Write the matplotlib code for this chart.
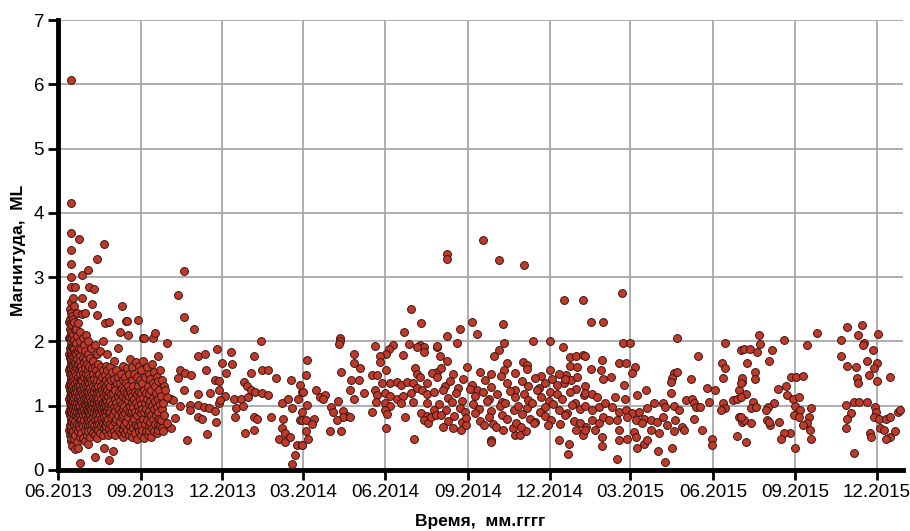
import numpy as np
import matplotlib
matplotlib.use('Agg')
import matplotlib.pyplot as plt
import matplotlib.dates as mdates
import datetime as dt

plt.rcParams['font.family'] = ['Liberation Sans', 'DejaVu Sans']

start_date = dt.datetime(2013, 6, 1)

# aftershock burst: day offset from 01.06.2013 -> magnitudes
burst_2013 = {
    12: [0.62, 0.9, 1.1, 1.3, 1.55, 1.8, 2.05, 2.3],
    13: [0.55, 0.7, 0.85, 0.95, 1.05, 1.15, 1.25, 1.35, 1.5, 1.6, 1.75, 1.9, 2.05, 2.2, 2.35, 2.5],
    14: [0.45, 0.62, 0.78, 0.9, 1.0, 1.1, 1.2, 1.3, 1.42, 1.55, 1.68, 1.8, 1.95, 2.1, 2.28, 2.62, 6.07],
    15: [0.5, 0.68, 0.82, 0.93, 1.03, 1.12, 1.22, 1.33, 1.45, 1.58, 1.72, 1.86, 2.0, 2.15, 2.45, 2.85, 3.0, 3.21, 3.42, 3.69, 4.15],
    16: [0.38, 0.58, 0.75, 0.88, 0.98, 1.08, 1.18, 1.28, 1.38, 1.5, 1.63, 1.78, 1.92, 2.06, 2.25, 2.4],
    17: [0.6, 0.8, 0.95, 1.07, 1.17, 1.3, 1.45, 1.6, 1.75, 1.9, 2.12, 2.35, 2.67],
    18: [0.48, 0.7, 0.87, 1.0, 1.12, 1.25, 1.4, 1.55, 1.7, 1.88, 2.02, 2.3, 2.55],
    19: [0.33, 0.55, 0.76, 0.92, 1.05, 1.2, 1.35, 1.52, 1.66, 1.82, 2.18, 2.85],
    20: [0.65, 0.85, 1.0, 1.15, 1.28, 1.48, 1.62, 1.8, 1.97, 2.2],
    21: [0.43, 0.72, 0.9, 1.05, 1.22, 1.38, 1.58, 1.72, 2.08, 2.45],
    22: [0.34, 0.6, 0.82, 0.98, 1.12, 1.3, 1.45, 1.65, 1.85, 2.28],
    23: [0.7, 0.88, 1.02, 1.18, 1.35, 1.55, 1.9, 3.59],
    24: [0.52, 0.78, 0.95, 1.1, 1.27, 1.42, 1.6, 1.78, 2.0],
    25: [0.11, 0.65, 0.85, 1.0, 1.15, 1.32, 1.5, 1.7, 2.15],
    26: [0.58, 0.8, 0.92, 1.08, 1.25, 1.4, 1.62, 1.88],
    27: [0.72, 0.9, 1.05, 1.2, 1.38, 1.55, 2.42, 2.67, 3.03],
    28: [0.5, 0.68, 0.85, 1.0, 1.16, 1.3, 1.5, 1.75, 2.05],
    29: [0.78, 0.95, 1.1, 1.28, 1.45, 1.68, 1.95],
    30: [0.45, 0.62, 0.88, 1.02, 1.2, 1.35, 1.58, 1.85, 2.45],
    31: [0.7, 0.85, 1.0, 1.12, 1.3, 1.5, 1.72, 2.1],
    32: [0.55, 0.8, 0.95, 1.08, 1.22, 1.42, 1.65],
    33: [0.41, 0.68, 0.9, 1.05, 1.18, 1.38, 1.55, 1.8, 3.11],
    34: [0.6, 0.78, 0.92, 1.1, 1.3, 1.48, 2.0],
    35: [0.75, 0.88, 1.0, 1.15, 1.35, 1.62, 2.84],
    36: [0.52, 0.7, 0.85, 0.98, 1.12, 1.28, 1.45, 1.75],
    37: [0.62, 0.8, 0.95, 1.08, 1.22, 1.4, 1.9],
    38: [0.72, 0.9, 1.02, 1.18, 1.35, 1.58, 2.58],
    39: [0.58, 0.82, 0.98, 1.12, 1.3, 1.5, 1.7],
    40: [0.68, 0.88, 1.05, 1.22, 1.42, 2.81],
    41: [0.21, 0.55, 0.78, 0.95, 1.1, 1.28, 1.6, 1.95],
    42: [0.65, 0.85, 1.0, 1.15, 1.35, 1.55],
    43: [0.75, 0.92, 1.08, 1.25, 1.48, 1.8],
    44: [0.5, 0.7, 0.88, 1.02, 1.2, 1.4, 2.41, 3.28],
    45: [0.62, 0.8, 0.98, 1.12, 1.3, 1.65],
    46: [0.72, 0.9, 1.05, 1.22, 1.5],
    47: [0.58, 0.85, 1.0, 1.18, 1.38, 1.85],
    48: [0.68, 0.8, 0.95, 1.1, 1.3, 1.6],
    49: [0.75, 0.92, 1.05, 1.25, 1.45],
    50: [0.55, 0.72, 0.88, 1.02, 1.2, 1.55, 2.0],
    51: [0.34, 0.65, 0.82, 0.98, 1.15, 1.35, 3.51],
    52: [0.7, 0.9, 1.05, 1.28, 1.48, 2.28],
    53: [0.6, 0.78, 0.95, 1.1, 1.3, 1.62],
    54: [0.68, 0.85, 1.0, 1.2, 1.4],
    55: [0.75, 0.92, 1.08, 1.25, 1.55, 1.8],
    56: [0.55, 0.8, 0.98, 1.15, 1.35],
    57: [0.16, 0.65, 0.88, 1.02, 1.22, 1.45, 2.31],
    58: [0.72, 0.9, 1.08, 1.3, 1.6],
    59: [0.58, 0.82, 0.98, 1.18, 1.4],
    60: [0.68, 1.02, 1.52],
    61: [0.29, 0.85, 1.2],
    62: [0.6, 0.98, 1.42, 1.7],
    63: [0.75, 1.1, 1.3],
    64: [0.55, 0.92, 1.25],
    65: [0.8, 1.05, 1.55],
    66: [0.65, 0.98, 1.35],
    67: [0.85, 1.15, 1.45, 1.9],
    68: [0.6, 0.95, 1.22],
    69: [0.75, 1.08, 1.35, 2.14],
    70: [0.58, 0.9, 1.18, 1.5],
    71: [0.82, 1.02, 1.28, 2.55],
    72: [0.62, 0.95, 1.4],
    73: [0.52, 0.85, 1.15, 1.62],
    74: [0.7, 1.0, 1.25],
    75: [0.58, 0.88, 1.2, 1.45],
    76: [0.75, 1.1, 1.35, 2.32],
    77: [0.62, 0.95, 1.18, 1.58, 2.32],
    78: [0.82, 1.08, 1.3, 2.10],
    79: [0.55, 0.9, 1.15, 1.5],
    80: [0.68, 1.0, 1.25, 1.72],
    81: [0.6, 0.88, 1.2],
    82: [0.75, 1.05, 1.4],
    83: [0.52, 0.92, 1.15, 1.6],
    84: [0.65, 0.98, 1.3],
    85: [0.8, 1.1, 1.5],
    86: [0.58, 0.9, 1.22],
    87: [0.7, 1.05, 1.68],
    88: [0.48, 0.85, 1.18, 1.45],
    89: [0.68, 1.0, 1.3, 2.33],
    90: [0.6, 0.92, 1.22, 1.62],
    91: [0.75, 1.1, 1.4],
    92: [0.55, 0.88, 1.2],
    93: [0.7, 1.02, 1.55],
    94: [0.62, 0.95, 1.35],
    95: [0.8, 1.12, 1.7, 2.05],
    96: [0.5, 0.9, 1.25, 2.05],
    97: [0.72, 1.05, 1.45],
    98: [0.6, 0.95, 1.2],
    99: [0.78, 1.1, 1.6],
    100: [0.55, 0.88, 1.3],
    101: [0.68, 1.02, 1.5],
    102: [0.6, 0.92, 1.18],
    103: [0.75, 1.08, 1.42],
    104: [0.52, 0.85, 1.25],
    105: [0.65, 1.0, 1.65],
    106: [0.8, 1.12, 1.35, 2.05],
    107: [0.6, 0.95, 1.52],
    108: [0.72, 1.08, 1.3, 2.13],
    109: [0.85, 1.2],
    110: [0.58, 0.98, 1.45],
    111: [0.7, 1.1],
    112: [0.62, 0.9, 1.38, 1.78],
    113: [0.8, 1.25],
    114: [0.68, 1.02, 1.55],
    115: [0.78, 1.15],
    116: [0.65, 0.95, 1.4],
    117: [0.6, 1.05],
    118: [0.85, 1.3],
}

# (day offset, magnitude)
events_2013_winter = [
    (140, 3.10), (134, 2.72), (140, 2.38), (152, 2.20), (121, 1.98), (156, 1.77), (164, 1.80),
    (177, 1.89), (193, 1.84), (226, 2.01), (219, 1.77), (183, 1.66), (194, 1.65), (187, 1.51),
    (165, 1.56), (136, 1.56), (142, 1.51), (148, 1.48), (134, 1.43), (215, 1.51), (227, 1.56),
    (234, 1.56), (243, 1.43), (260, 1.40), (272, 1.22), (175, 1.40), (179, 1.39), (141, 1.24),
    (170, 1.20), (156, 1.18), (179, 1.24), (186, 1.15), (196, 1.10), (204, 1.11), (207, 1.37),
    (211, 1.30), (215, 1.24), (220, 1.22), (227, 1.20), (234, 1.17), (212, 1.14), (250, 1.04),
    (256, 1.11), (261, 0.96), (268, 1.11), (198, 0.96), (206, 0.99), (147, 1.01), (156, 1.01),
    (163, 0.98), (168, 0.96), (175, 0.92), (179, 1.04), (181, 1.09), (136, 1.00), (126, 1.10),
    (128, 1.09), (122, 1.14), (119, 1.24), (147, 0.93), (197, 0.83), (156, 0.83), (160, 0.79),
    (219, 0.83), (222, 0.79), (237, 0.83), (251, 0.79), (176, 0.74), (130, 0.81), (126, 0.65),
    (121, 0.73), (166, 0.56), (144, 0.47), (209, 0.58), (218, 0.63), (250, 0.65), (253, 0.58),
    (246, 0.49), (253, 0.44), (259, 0.51), (266, 0.39), (272, 0.39), (264, 0.23), (261, 0.10),
    (270, 0.78), (272, 0.91),
]

events_2014_spring = [
    (394, 2.50), (405, 2.29), (386, 2.14), (314, 2.06), (314, 2.00), (313, 1.96), (391, 1.96),
    (353, 1.93), (374, 1.94), (369, 1.88), (366, 1.81), (359, 1.77), (359, 1.68), (403, 1.94),
    (408, 1.91), (408, 1.84), (400, 1.92), (385, 1.79), (422, 1.92), (278, 1.71), (330, 1.81),
    (330, 1.67), (337, 1.59), (315, 1.52), (277, 1.48), (366, 1.56), (422, 1.53), (398, 1.58),
    (400, 1.50), (404, 1.45), (350, 1.48), (356, 1.48), (327, 1.40), (335, 1.40), (361, 1.35),
    (370, 1.36), (378, 1.37), (382, 1.32), (389, 1.37), (396, 1.36), (411, 1.35), (417, 1.51),
    (288, 1.25), (273, 1.22), (270, 1.32), (325, 1.25), (341, 1.20), (292, 1.14), (298, 1.17),
    (295, 1.10), (353, 1.24), (356, 1.17), (365, 1.20), (370, 1.15), (378, 1.10), (385, 1.15),
    (393, 1.20), (400, 1.27), (406, 1.25), (411, 1.19), (419, 1.22), (330, 1.11), (312, 1.08),
    (355, 1.06), (365, 1.04), (370, 0.99), (382, 1.04), (396, 1.06), (411, 1.04), (304, 0.98),
    (278, 1.01), (318, 0.92), (322, 0.84), (318, 0.83), (325, 0.83), (350, 0.91), (365, 0.94),
    (367, 0.87), (405, 0.88), (411, 0.84), (408, 0.78), (412, 0.73), (416, 0.83), (419, 0.93),
    (421, 0.86), (387, 0.83), (307, 0.91), (311, 0.78), (272, 0.78), (277, 0.78), (285, 0.80),
    (283, 0.72), (277, 0.60), (279, 0.48), (272, 0.39), (303, 0.61), (315, 0.61), (366, 0.66),
    (397, 0.49),
]

events_2014_autumn = [
    (434, 3.36), (434, 3.28), (474, 3.58), (492, 3.27), (520, 3.19), (564, 2.64), (585, 2.64),
    (462, 2.31), (448, 2.20), (496, 2.27), (467, 2.12), (434, 2.08), (445, 1.98), (497, 1.97),
    (529, 2.01), (548, 2.00), (563, 1.92), (423, 1.93), (492, 1.87), (486, 1.77), (434, 1.70),
    (426, 1.77), (501, 1.66), (518, 1.68), (523, 1.63), (571, 1.76), (577, 1.77), (585, 1.79),
    (571, 1.62), (579, 1.61), (549, 1.56), (566, 1.48), (572, 1.40), (564, 1.35),
    (483, 0.47), (483, 0.43), (559, 0.47), (570, 0.40), (568, 0.25), (509, 0.54), (515, 0.54),
    (522, 0.61), (507, 0.66),
    (427, 1.58), (440, 1.50), (456, 1.61), (470, 1.53), (483, 1.49), (497, 1.55), (510, 1.51),
    (523, 1.57), (538, 1.46), (551, 1.41), (559, 1.50), (579, 1.45),
    (423, 1.44), (431, 1.31), (437, 1.38), (446, 1.27), (452, 1.42), (461, 1.33), (467, 1.25),
    (476, 1.40), (483, 1.29), (494, 1.46), (500, 1.35), (509, 1.24), (517, 1.38), (524, 1.30),
    (532, 1.43), (536, 1.28), (543, 1.36), (549, 1.22), (556, 1.33), (565, 1.41), (578, 1.26),
    (587, 1.30),
    (429, 1.24), (435, 1.12), (444, 1.20), (450, 1.08), (459, 1.26), (465, 1.15), (474, 1.21),
    (480, 1.10), (489, 1.18), (495, 1.06), (504, 1.23), (509, 1.13), (519, 1.19), (524, 1.09),
    (534, 1.25), (539, 1.14), (547, 1.07), (556, 1.18), (562, 1.11), (571, 1.22), (576, 1.05),
    (586, 1.16),
    (425, 1.03), (433, 0.94), (439, 1.06), (448, 0.97), (454, 0.90), (463, 1.02), (469, 0.95),
    (478, 1.08), (483, 0.92), (493, 0.99), (498, 1.05), (508, 0.93), (513, 1.00), (523, 0.96),
    (528, 1.04), (537, 0.91), (543, 0.98), (552, 1.02), (558, 0.94), (567, 0.89), (573, 1.01),
    (582, 0.95), (588, 0.99),
    (427, 0.86), (435, 0.77), (441, 0.84), (450, 0.74), (455, 0.81), (465, 0.88), (470, 0.76),
    (480, 0.82), (485, 0.72), (495, 0.85), (500, 0.79), (511, 0.73), (517, 0.87), (526, 0.80),
    (532, 0.75), (543, 0.84), (550, 0.78), (560, 0.71), (565, 0.86), (575, 0.76), (582, 0.73),
    (589, 0.67),
    (429, 0.67), (440, 0.65), (449, 0.62), (455, 0.70), (475, 0.70), (488, 0.67), (496, 0.62),
    (516, 0.67), (531, 0.73), (546, 0.70), (577, 0.62), (585, 0.54),
]

events_2015_spring = [
    (629, 2.76), (594, 2.31), (608, 2.31), (630, 1.98), (638, 1.98), (690, 2.05), (744, 1.97),
    (761, 1.87), (713, 1.77), (625, 1.66), (633, 1.67), (643, 1.61), (640, 1.51), (607, 1.71),
    (594, 1.57), (605, 1.56), (588, 1.77), (687, 1.51), (690, 1.53), (685, 1.43), (683, 1.37),
    (706, 1.41), (740, 1.67), (744, 1.58), (741, 1.43), (763, 1.37), (759, 1.24), (616, 1.45),
    (608, 1.41), (631, 1.32), (655, 1.24), (646, 1.17), (683, 1.20), (724, 1.28), (732, 1.25),
    (588, 1.20), (595, 1.18), (601, 1.14), (621, 1.14), (632, 1.10), (700, 1.09), (707, 1.11),
    (709, 1.04), (711, 0.98), (716, 0.98), (726, 1.06), (741, 1.04), (744, 0.96), (739, 0.94),
    (752, 1.09), (757, 1.11), (657, 0.97), (664, 1.04), (675, 1.04), (677, 0.98), (687, 0.99),
    (692, 0.93), (595, 0.93), (603, 0.98), (610, 1.04), (618, 0.98), (625, 0.91), (633, 0.93),
    (640, 0.89), (648, 0.91), (653, 0.80), (595, 0.78), (603, 0.73), (608, 0.83), (614, 0.78),
    (623, 0.78), (634, 0.83), (644, 0.78), (651, 0.73), (661, 0.78), (668, 0.75), (674, 0.83),
    (679, 0.70), (688, 0.78), (696, 0.67), (709, 0.80), (759, 0.83), (763, 0.75), (588, 0.62),
    (599, 0.62), (607, 0.52), (625, 0.62), (642, 0.59), (661, 0.62), (670, 0.57), (687, 0.61),
    (698, 0.62), (625, 0.47), (634, 0.49), (644, 0.52), (653, 0.41), (657, 0.47), (718, 0.62),
    (757, 0.53), (729, 0.48), (729, 0.39), (646, 0.34), (669, 0.29), (684, 0.34), (677, 0.13),
    (623, 0.17), (606, 0.37),
]

events_2015_autumn = [
    (782, 2.10), (783, 1.96), (809, 2.02), (846, 2.13), (835, 1.94), (880, 2.22), (896, 2.26),
    (892, 2.10), (873, 2.03), (899, 1.98), (897, 1.94), (914, 2.12), (908, 1.86), (873, 1.77),
    (880, 1.62), (890, 1.60), (902, 1.70), (913, 1.66), (910, 1.58), (927, 1.44), (891, 1.43),
    (892, 1.35), (904, 1.48), (913, 1.38), (765, 1.88), (771, 1.88), (779, 1.84), (796, 1.86),
    (793, 1.70), (768, 1.66), (777, 1.53), (777, 1.41), (763, 1.43), (761, 1.35), (817, 1.44),
    (823, 1.44), (830, 1.46), (803, 1.26), (812, 1.30), (767, 1.19), (761, 1.14), (813, 1.17),
    (819, 1.11), (826, 1.13), (775, 1.06), (772, 0.96), (778, 0.98), (798, 1.05), (791, 0.98),
    (789, 0.93), (822, 1.00), (827, 0.93), (821, 0.85), (826, 0.83), (839, 0.96), (837, 0.83),
    (835, 0.73), (879, 1.01), (887, 1.06), (893, 1.06), (902, 1.06), (911, 0.98), (912, 0.91),
    (910, 0.83), (915, 0.80), (923, 0.80), (928, 0.83), (936, 0.91), (939, 0.93), (884, 0.89),
    (880, 0.80), (765, 0.78), (772, 0.73), (761, 0.83), (790, 0.78), (794, 0.70), (793, 0.75),
    (804, 0.75), (830, 0.70), (838, 0.63), (879, 0.66), (905, 0.58), (906, 0.52), (916, 0.65),
    (921, 0.62), (927, 0.52), (933, 0.61), (923, 0.48), (816, 0.58), (809, 0.57), (806, 0.49),
    (839, 0.49), (767, 0.44), (822, 0.35), (887, 0.27),
]

y_ticks = [0, 1, 2, 3, 4, 5, 6, 7]
y_label = 'Магнитуда,  ML'
x_label = 'Время,  мм.гггг'

days, mags = [], []
for d, ms in burst_2013.items():
    for m in ms:
        days.append(d)
        mags.append(m)
for seg in (events_2013_winter, events_2014_spring, events_2014_autumn,
            events_2015_spring, events_2015_autumn):
    for d, m in seg:
        days.append(d)
        mags.append(m)

x0 = mdates.date2num(start_date)
xs = x0 + np.array(days, dtype=float)

W, H = 910, 531
fig = plt.figure(figsize=(W / 100, H / 100), dpi=100)
ax = fig.add_axes([58 / W, 1 - 470 / H, (903 - 58) / W, (470 - 20) / H])

ax.scatter(xs, mags, s=32, c='#bf3a2b', edgecolors='#3b1410', linewidths=0.7,
           zorder=3, clip_on=False)

ax.set_ylim(0, 7)
ax.set_xlim(x0, x0 + 942)
ax.set_yticks(y_ticks)
ax.xaxis_date()
ax.xaxis.set_major_locator(mdates.MonthLocator(bymonth=[3, 6, 9, 12]))
ax.xaxis.set_major_formatter(mdates.DateFormatter('%m.%Y'))

ax.set_axisbelow(True)
ax.grid(True, color='#a8a8a8', linewidth=1.3)
for side in ('top', 'right'):
    ax.spines[side].set_visible(False)
for side in ('left', 'bottom'):
    ax.spines[side].set_linewidth(3.5)
    ax.spines[side].set_color('black')

ax.tick_params(axis='both', direction='out', length=7, width=2, labelsize=13.5,
               colors='black', pad=3)

fig.text(19 / W, 1 - 250 / H, y_label, rotation=90, ha='center', va='center',
         fontsize=12.5, fontweight='bold')
fig.text(480 / W, 1 - 526 / H, x_label, ha='center', va='baseline',
         fontsize=12.5, fontweight='bold')

fig.savefig('out.png', dpi=100)
